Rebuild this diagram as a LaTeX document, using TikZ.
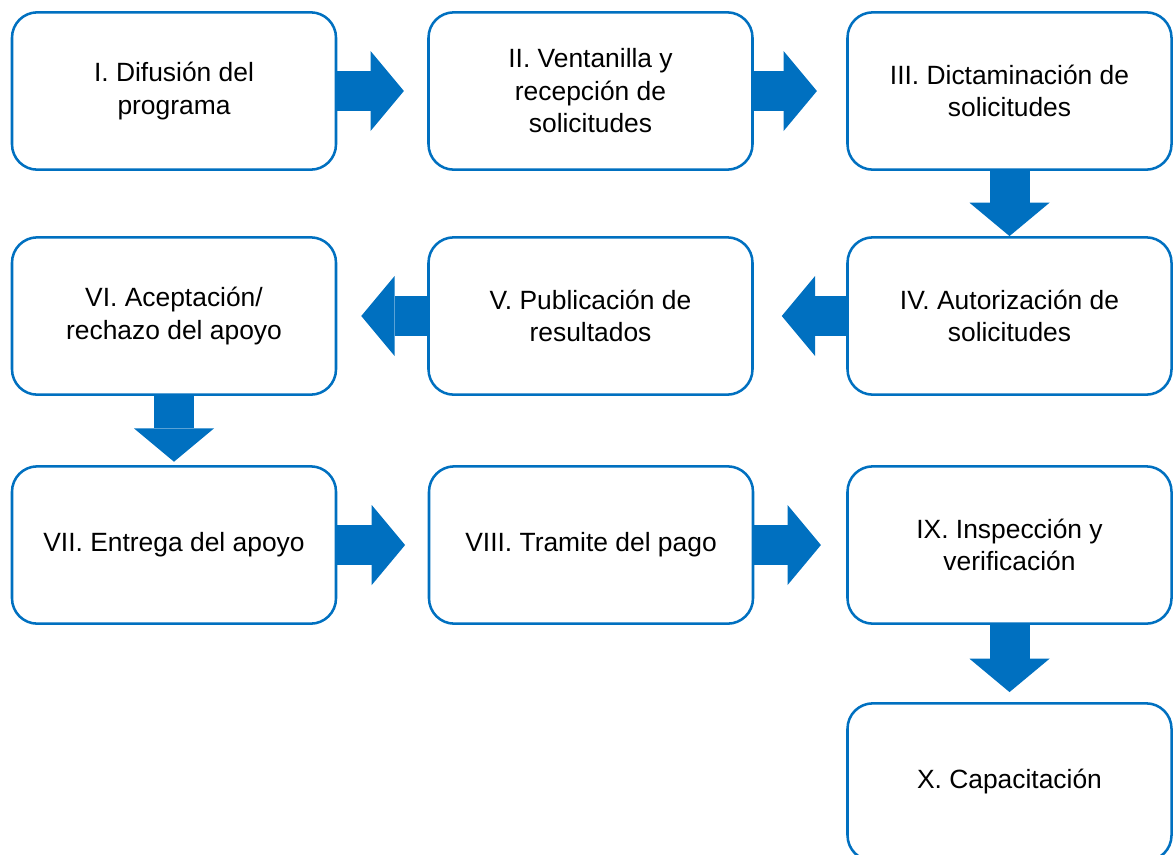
\documentclass[tikz,border=0pt]{standalone}
\usepackage{fontspec}
\setmainfont{Liberation Sans}
\usetikzlibrary{arrows.meta}

\definecolor{pasoazul}{HTML}{0070C0}

\begin{document}
\begin{tikzpicture}[x=0.75pt,y=-0.75pt]


\tikzset{Paso/.style = {draw=pasoazul, line width=1.9pt, fill=white,
                        rounded corners=19pt, align=center,
                        minimum width=243pt, minimum height=118pt,
                        font=\fontsize{19.8pt}{24.4pt}\selectfont}}
\tikzset{Flecha/.style = {draw=pasoazul, line width=30pt,
                        -{Triangle[width=60pt,length=25pt,line width=0pt,fill=pasoazul]}}}

\useasboundingbox (0,0) rectangle (1173,854);

\node[Paso] (difusion)   at (174,91)    {I. Difusión del\\programa};
\node[Paso] (ventanilla) at (590.5,91)  {II. Ventanilla y\\recepción de\\solicitudes};
\node[Paso] (dictamen)   at (1009.5,91) {III. Dictaminación de\\solicitudes};
\node[Paso] (autoriza)   at (1009.5,316) {IV. Autorización de\\solicitudes};
\node[Paso] (publica)    at (590.5,316) {V. Publicación de\\resultados};
\node[Paso] (acepta)     at (174,316)   {VI. Aceptación/\\rechazo del apoyo};
\node[Paso] (entrega)    at (174,545)   {VII. Entrega del apoyo};
\node[Paso] (tramite)    at (591,545)   {VIII. Tramite del pago};
\node[Paso] (inspeccion) at (1009.5,545) {IX. Inspección y\\verificación};
\node[Paso] (capacita)   at (1009.5,782) {X. Capacitación};

\draw[Flecha, shorten >=17.5pt] (difusion) -- (ventanilla);
\draw[Flecha, shorten >=22pt]   (ventanilla) -- (dictamen);
\draw[Flecha]                   (dictamen) -- (autoriza);
\draw[Flecha, shorten >=21pt]   (autoriza) -- (publica);
\draw[Flecha, shorten >=18pt]   (publica) -- (acepta);
\draw[Flecha, shorten >=2.5pt]  (acepta) -- (entrega);
\draw[Flecha, shorten >=17pt]   (entrega) -- (tramite);
\draw[Flecha, shorten >=19pt]   (tramite) -- (inspeccion);
\draw[Flecha, shorten >=7.5pt]  (inspeccion) -- (capacita);

\end{tikzpicture}
\end{document}
